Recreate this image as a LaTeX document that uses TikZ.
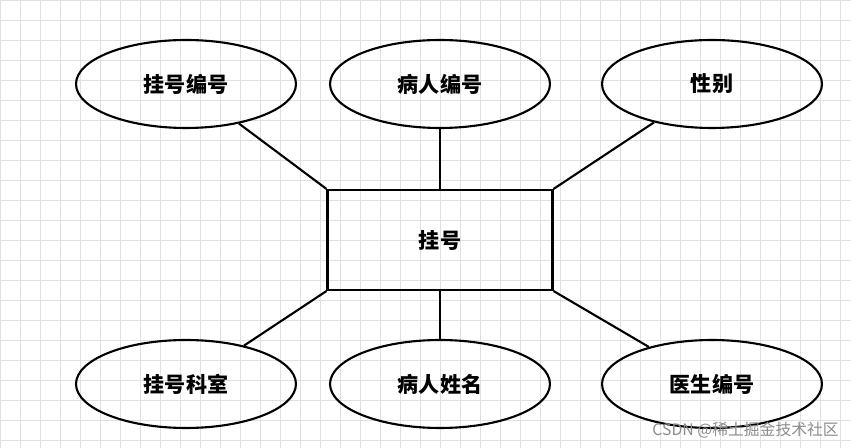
\documentclass[tikz,border=0pt]{standalone}
\usepackage{fontspec}
\newfontfamily\cjk{Noto Sans CJK SC}
\usetikzlibrary{shapes.geometric}
\begin{document}
\begin{tikzpicture}[x=0.02cm,y=-0.02cm,
  attr/.style={ellipse,draw,line width=1.2pt,minimum width=4.4cm,minimum height=1.76cm,font=\cjk\bfseries\fontsize{12}{14}\selectfont},
  ent/.style={rectangle,draw,line width=1.2pt,minimum width=4.5cm,minimum height=2cm,font=\cjk\bfseries\fontsize{12}{14}\selectfont},
  link/.style={line width=1.2pt}]
\useasboundingbox (0,0) rectangle (851,448);
\fill[white] (0,0) rectangle (851,448);
\foreach \x in {0,20,...,840} \draw[black!12,line width=0.5pt] (\x,0) -- (\x,448);
\foreach \y in {0,20,...,440} \draw[black!12,line width=0.5pt] (0,\y) -- (851,\y);
\node[ent] (r) at (440,240) {挂号};
\node[attr] (a1) at (186,84) {挂号编号};
\node[attr] (a2) at (440,84) {病人编号};
\node[attr] (a3) at (712,84) {性别};
\node[attr] (b1) at (186,384) {挂号科室};
\node[attr] (b2) at (440,384) {病人姓名};
\node[attr] (b3) at (712,384) {医生编号};
\draw[link] (r.north west) -- (a1);
\draw[link] (r.north) -- (a2);
\draw[link] (r.north east) -- (a3);
\draw[link] (r.south west) -- (b1);
\draw[link] (r.south) -- (b2);
\draw[link] (r.south east) -- (b3);
\node[font=\cjk\fontsize{9}{10}\selectfont,text=black!45,anchor=east] (wm) at (845,430) {CSDN @稀土掘金技术社区};
\end{tikzpicture}
\end{document}
